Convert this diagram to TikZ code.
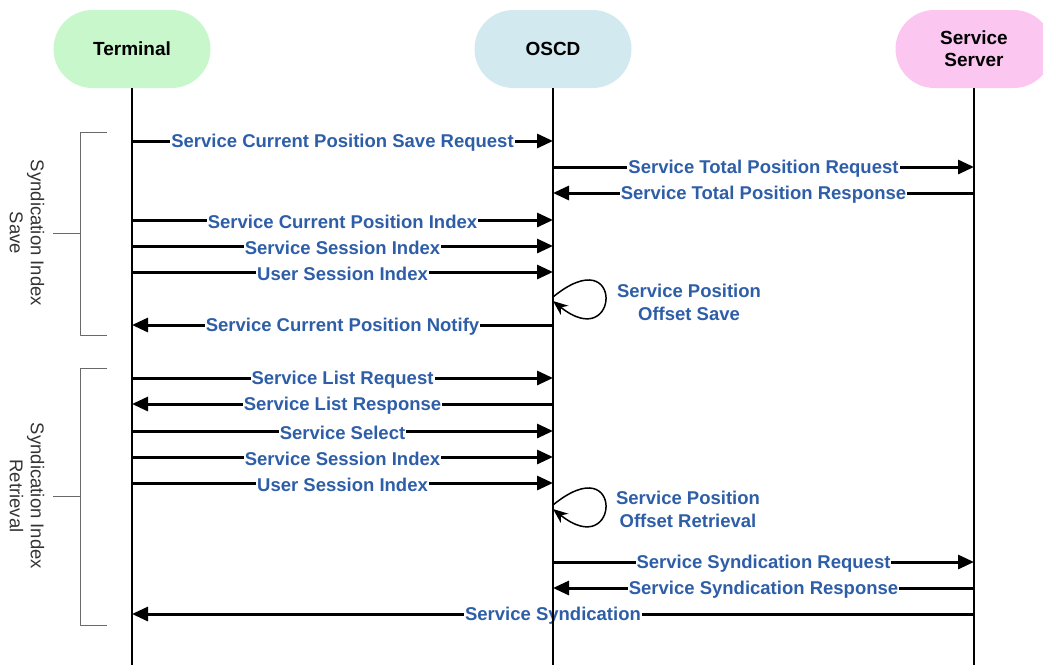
\documentclass[tikz,border=0pt]{standalone}
\usepackage{fontspec}
\setmainfont{Liberation Sans}
\usetikzlibrary{arrows.meta}

\definecolor{termgreen}{RGB}{201,247,204}
\definecolor{oscdblue}{RGB}{210,233,239}
\definecolor{srvpink}{RGB}{251,198,240}
\definecolor{msgblue}{RGB}{46,94,168}
\definecolor{brgray}{RGB}{105,105,105}

\tikzset{
  actor/.style={rectangle, rounded corners=39pt, minimum width=157pt, minimum height=78pt,
    align=center, font=\fontsize{19}{22}\selectfont\bfseries},
  life/.style={line width=2pt},
  msg/.style={line width=3pt, -{Triangle[length=16pt,width=14pt]}},
  lbl/.style={fill=white, inner sep=1pt, align=center, text=msgblue,
    font=\fontsize{18.5}{23}\selectfont\bfseries},
  selfloop/.style={line width=1.5pt, -{Stealth[length=15pt,width=12pt]}},
  brace/.style={brgray, line width=1pt},
  phase/.style={rotate=-90, align=center, text=black!80, font=\fontsize{18.5}{21}\selectfont}
}

\begin{document}
\begin{tikzpicture}[x=1pt,y=-1pt, line join=round]
  \clip (0,0) rectangle (1043,665);

  % actors
  \node[actor, fill=termgreen] (T) at (132,49) {Terminal};
  \node[actor, fill=oscdblue] (O) at (553,49) {OSCD};
  \node[actor, fill=srvpink] (S) at (974,49) {Service\\Server};

  % messages: y / from / to / text
  \foreach \y/\f/\t/\txt in {
      141/T/O/Service Current Position Save Request,
      167/O/S/Service Total Position Request,
      193/S/O/Service Total Position Response,
      220/T/O/Service Current Position Index,
      246/T/O/Service Session Index,
      272/T/O/User Session Index,
      325/O/T/Service Current Position Notify,
      378/T/O/Service List Request,
      404/O/T/Service List Response,
      431/T/O/Service Select,
      457/T/O/Service Session Index,
      483/T/O/User Session Index,
      562/O/S/Service Syndication Request,
      588/S/O/Service Syndication Response,
      614/S/T/Service Syndication}
    \draw[msg] (\f |- 0,\y) -- (\t |- 0,\y) node[midway, lbl, yshift=-2pt] {\txt};

  % OSCD working on its own
  \draw[selfloop] (O |- 0,297) .. controls (625,238) and (620,355) .. (O |- 0,301);
  \node[lbl] (offsave) at (689,302) {Service Position\\Offset Save};
  \draw[selfloop] (O |- 0,505) .. controls (625,446) and (620,563) .. (O |- 0,509);
  \node[lbl] (offret) at (688,509) {Service Position\\Offset Retrieval};

  % lifelines
  \foreach \a in {T,O,S}
    \draw[life] (\a.south) -- (\a.south |- 0,665);

  % phases
  \draw[brace] (107,132) -- (80,132) -- (80,335) -- (107,335);
  \draw[brace] (80,233) -- (53,233);
  \node[phase] (save) at (27,233) {Syndication Index\\Save};
  \draw[brace] (107,368) -- (80,368) -- (80,625) -- (107,625);
  \draw[brace] (80,496) -- (53,496);
  \node[phase] (retr) at (27,496) {Syndication Index\\Retrieval};
\end{tikzpicture}
\end{document}
